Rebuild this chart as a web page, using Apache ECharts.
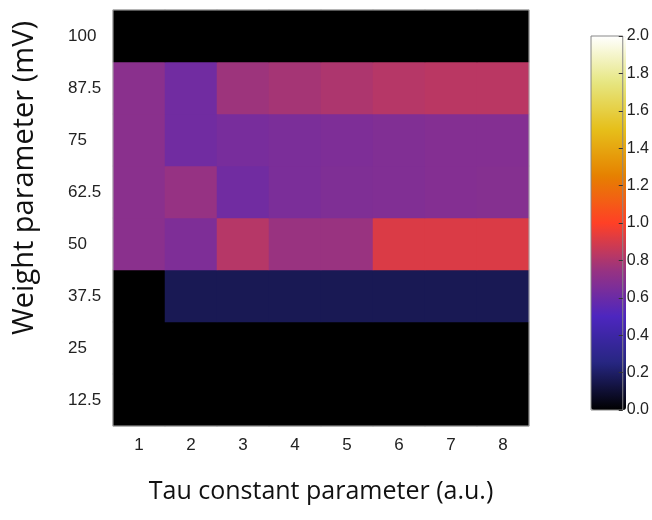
<!DOCTYPE html>
<html>
<head>
<meta charset="utf-8">
<script src="https://cdn.jsdelivr.net/npm/echarts@6/dist/echarts.min.js"></script>
<style>html,body{margin:0;padding:0;background:#fff;}#main{width:652px;height:520px;}</style>
</head>
<body>
<div id="main"></div>
<script>
// Categories
const tauLabels = ['1', '2', '3', '4', '5', '6', '7', '8'];
const weightLabels = ['12.5', '25', '37.5', '50', '62.5', '75', '87.5', '100'];
// Values per weight row (left to right over tau)
const w12_5 = [0, 0, 0, 0, 0, 0, 0, 0];
const w25   = [0, 0, 0, 0, 0, 0, 0, 0];
const w37_5 = [0, 0.165, 0.165, 0.165, 0.165, 0.165, 0.165, 0.165];
const w50   = [0.70, 0.66, 0.82, 0.75, 0.75, 0.91, 0.91, 0.91];
const w62_5 = [0.70, 0.74, 0.62, 0.65, 0.665, 0.67, 0.68, 0.685];
const w75   = [0.70, 0.62, 0.64, 0.65, 0.66, 0.67, 0.68, 0.68];
const w87_5 = [0.70, 0.62, 0.76, 0.78, 0.80, 0.82, 0.83, 0.83];
const w100  = [0, 0, 0, 0, 0, 0, 0, 0];
const rows = [w12_5, w25, w37_5, w50, w62_5, w75, w87_5, w100];
// Colour bar
const cbMin = 0, cbMax = 2, cbStep = 0.2;
const cmrmap = ['#000000', '#262680', '#4d26bf', '#993380', '#ff4026', '#e68000', '#e6bf1a', '#e6e680', '#ffffff'];

const data = [];
rows.forEach((r, yi) => r.forEach((v, xi) => data.push([xi, yi, v])));

const chart = echarts.init(document.getElementById('main'), null, {renderer: 'canvas'});
chart.setOption({
  backgroundColor: '#ffffff',
  animation: false,
  grid: [
    {left: 113, top: 10, width: 416, height: 416, show: true, borderColor: '#aaaaaa', borderWidth: 1, z: 10},
    {left: 591, top: 36, width: 35, height: 374, show: true, borderColor: '#888888', borderWidth: 1, backgroundColor: 'transparent', z: 10}
  ],
  xAxis: [
    {type: 'category', data: tauLabels, gridIndex: 0,
     axisLine: {show: false}, axisTick: {show: false}, splitLine: {show: false},
     axisLabel: {color: '#222', fontSize: 17, fontFamily: 'Liberation Sans, Arial', margin: 11},
     name: 'Tau constant parameter (a.u.)', nameLocation: 'middle', nameGap: 53,
     nameTextStyle: {color: '#111', fontSize: 25, fontFamily: 'Open Sans'}},
    {type: 'value', gridIndex: 1, show: false, min: 0, max: 1}
  ],
  yAxis: [
    {type: 'category', data: weightLabels, gridIndex: 0,
     axisLine: {show: false}, axisTick: {show: false}, splitLine: {show: false},
     axisLabel: {color: '#222', fontSize: 17, fontFamily: 'Liberation Sans, Arial', margin: 45, align: 'left'},
     name: 'Weight parameter (mV)', nameLocation: 'middle', nameGap: 74, nameRotate: 90,
     nameTextStyle: {color: '#111', fontSize: 29, fontFamily: 'Open Sans', padding: [0, 0, 0, 80]}},
    {type: 'value', gridIndex: 1, position: 'right', min: cbMin, max: cbMax, interval: cbStep, z: 20,
     axisLine: {show: false, onZero: false}, splitLine: {show: false},
     axisTick: {show: true, inside: true, length: 4, lineStyle: {color: '#333', width: 1}},
     axisLabel: {color: '#222', fontSize: 16, fontFamily: 'Liberation Sans, Arial', margin: 4,
                 formatter: v => v.toFixed(1)}}
  ],
  visualMap: {
    type: 'continuous', min: cbMin, max: cbMax, calculable: false, seriesIndex: 0,
    orient: 'vertical', left: 591, top: 36, itemWidth: 35, itemHeight: 374, padding: 0, z: 2,
    text: null, showLabel: false, inRange: {color: cmrmap}, hoverLink: false
  },
  series: [{
    type: 'heatmap', xAxisIndex: 0, yAxisIndex: 0, data: data,
    itemStyle: {borderWidth: 0}, emphasis: {disabled: true}
  }]
});
</script>
</body>
</html>
